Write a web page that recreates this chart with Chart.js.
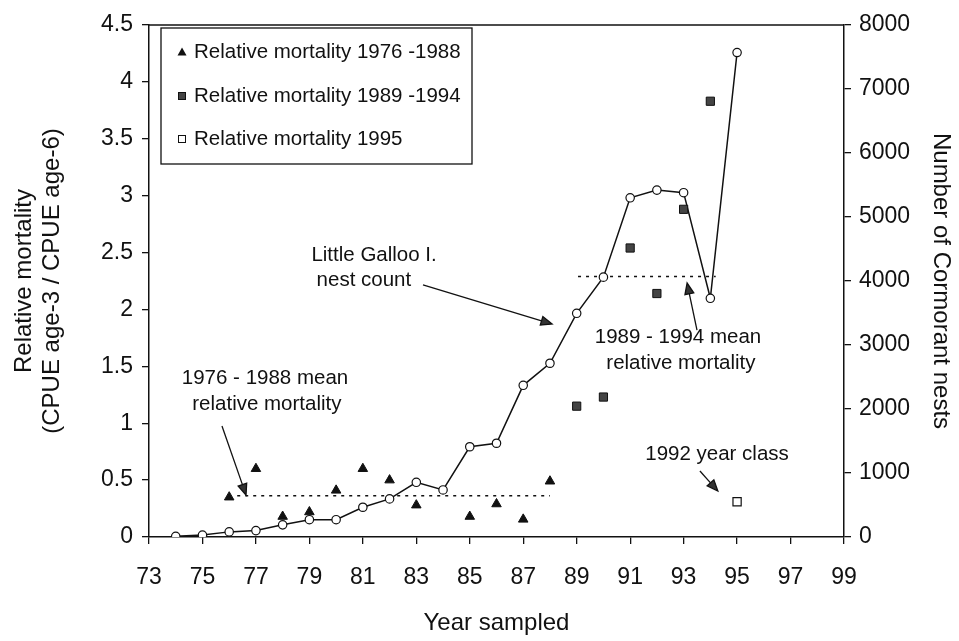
<!DOCTYPE html>
<html><head><meta charset="utf-8">
<script src="https://cdn.jsdelivr.net/npm/chart.js@4/dist/chart.umd.min.js"></script>
<style>html,body{margin:0;padding:0;background:#fff}</style>
</head><body>
<canvas id="c" width="959" height="641"></canvas>
<script>
// ---- data ----
const nestYears  = [74,75,76,77,78,79,80,81,82,83,84,85,86,87,88,89,90,91,92,93,94,95];
const nestCounts = [10,30,80,100,190,270,270,465,595,855,735,1410,1465,2370,2715,3495,4060,5300,5420,5380,3730,7570];
const mortEarlyYears = [76,77,78,79,80,81,82,83,85,86,87,88];
const mortEarly      = [0.35,0.60,0.18,0.22,0.41,0.60,0.50,0.28,0.18,0.29,0.155,0.49];
const mortMidYears = [89,90,91,92,93,94];
const mortMid      = [1.15,1.23,2.54,2.14,2.88,3.83];
const mort95Years = [95];
const mort95      = [0.31];
const meanEarlySpan = [76.3, 88.0];
const meanEarly = 0.363;
const meanMidSpan = [89.05, 94.2];
const meanMid = 2.29;
const xTicks = [73,75,77,79,81,83,85,87,89,91,93,95,97,99];
const yLeftTicks = [0,0.5,1,1.5,2,2.5,3,3.5,4,4.5];
const yRightTicks = [0,1000,2000,3000,4000,5000,6000,7000,8000];
const legendLabels = ['Relative mortality 1976 -1988','Relative mortality 1989 -1994','Relative mortality 1995'];
const xTitle = 'Year sampled';
const yTitle = ['Relative mortality','(CPUE age-3 / CPUE age-6)'];
const y2Title = 'Number of Cormorant nests';

const FONT = '"Liberation Sans", Arial, sans-serif';
const INK = '#111';
const pts = (xs, ys) => xs.map((x,i)=>({x, y: ys[i]}));

const frameAndNotes = {
  id: 'frameAndNotes',
  afterDraw(chart) {
    const {ctx, chartArea: a, scales} = chart;
    const X = v => scales.x.getPixelForValue(v);
    const Y = v => scales.y.getPixelForValue(v);
    ctx.save();
    // top frame
    ctx.strokeStyle = INK; ctx.lineWidth = 1.5;
    ctx.beginPath(); ctx.moveTo(a.left, a.top); ctx.lineTo(a.right, a.top); ctx.stroke();

    // legend box
    const lx = a.left + 12, ly = a.top + 3, lw = 311, lh = 136;
    ctx.fillStyle = '#fff'; ctx.fillRect(lx, ly, lw, lh);
    ctx.lineWidth = 1.3; ctx.strokeRect(lx, ly, lw, lh);
    ctx.font = '20.5px ' + FONT; ctx.fillStyle = INK; ctx.textBaseline = 'middle'; ctx.textAlign = 'left';
    const rows = [ly + 24, ly + 68, ly + 111];
    const mx = lx + 21;
    // triangle
    ctx.beginPath(); ctx.moveTo(mx, rows[0]-4.5); ctx.lineTo(mx+4.5, rows[0]+3.5); ctx.lineTo(mx-4.5, rows[0]+3.5); ctx.closePath();
    ctx.fillStyle = INK; ctx.fill();
    // filled square
    ctx.fillStyle = '#444'; ctx.fillRect(mx-3.5, rows[1]-3.5, 7, 7);
    ctx.lineWidth = 1; ctx.strokeStyle = INK; ctx.strokeRect(mx-3.5, rows[1]-3.5, 7, 7);
    // open square
    ctx.fillStyle = '#fff'; ctx.fillRect(mx-3.5, rows[2]-3.5, 7, 7); ctx.strokeRect(mx-3.5, rows[2]-3.5, 7, 7);
    ctx.fillStyle = INK;
    legendLabels.forEach((t,i)=> ctx.fillText(t, lx + 33, rows[i]));

    // annotations (anchored in data coordinates)
    ctx.textAlign = 'center';
    const txt = (s, xv, yv) => ctx.fillText(s, X(xv), Y(yv));
    txt('Little Galloo I.', 81.42, 2.478);
    txt('nest count', 81.04, 2.259);
    txt('1976 - 1988 mean', 77.34, 1.397);
    txt('relative mortality', 77.41, 1.169);
    txt('1989 - 1994 mean', 92.79, 1.758);
    txt('relative mortality', 92.90, 1.529);
    txt('1992 year class', 94.25, 0.729);

    const arrow = (x1v,y1v,x2v,y2v) => {
      const x1=X(x1v), y1=Y(y1v), x2=X(x2v), y2=Y(y2v);
      const ang = Math.atan2(y2-y1, x2-x1), L = 11, W = 4.5;
      const bx = x2 - L*Math.cos(ang), by = y2 - L*Math.sin(ang);
      ctx.strokeStyle = INK; ctx.lineWidth = 1.3;
      ctx.beginPath(); ctx.moveTo(x1,y1); ctx.lineTo(bx,by); ctx.stroke();
      ctx.beginPath(); ctx.moveTo(x2,y2);
      ctx.lineTo(bx + W*Math.sin(ang), by - W*Math.cos(ang));
      ctx.lineTo(bx - W*Math.sin(ang), by + W*Math.cos(ang));
      ctx.closePath(); ctx.fillStyle = '#333'; ctx.fill(); ctx.stroke();
    };
    arrow(83.25, 2.215, 88.08, 1.872);
    arrow(75.73, 0.976, 76.63, 0.369);
    arrow(93.50, 1.819, 93.13, 2.232);
    arrow(93.61, 0.580, 94.28, 0.404);
    ctx.restore();
  }
};

const tickFont = {family: FONT, size: 23};
const titleFont = {family: FONT, size: 24, lineHeight: 1.15};
const setTicks = arr => s => { s.ticks = arr.map(v=>({value:v})); };

new Chart(document.getElementById('c'), {
  type: 'scatter',
  data: {
    datasets: [
      {label: legendLabels[0], data: pts(mortEarlyYears, mortEarly), yAxisID: 'y',
       pointStyle: 'triangle', pointRadius: 5.5, backgroundColor: INK, borderColor: INK, borderWidth: 1},
      {label: legendLabels[1], data: pts(mortMidYears, mortMid), yAxisID: 'y',
       pointStyle: 'rect', pointRadius: 5.8, backgroundColor: '#444', borderColor: INK, borderWidth: 1},
      {label: legendLabels[2], data: pts(mort95Years, mort95), yAxisID: 'y',
       pointStyle: 'rect', pointRadius: 5.8, backgroundColor: '#fff', borderColor: INK, borderWidth: 1.2},
      {label: 'Little Galloo I. nest count', type: 'line', data: pts(nestYears, nestCounts), yAxisID: 'y2',
       borderColor: INK, borderWidth: 1.5, pointRadius: 4.2, pointBackgroundColor: '#fff',
       pointBorderColor: INK, pointBorderWidth: 1.2, tension: 0, fill: false},
      {label: '1976-1988 mean', type: 'line', data: pts(meanEarlySpan, [meanEarly, meanEarly]), yAxisID: 'y',
       borderColor: INK, borderWidth: 1.6, borderDash: [3,5], pointRadius: 0, fill: false},
      {label: '1989-1994 mean', type: 'line', data: pts(meanMidSpan, [meanMid, meanMid]), yAxisID: 'y',
       borderColor: INK, borderWidth: 1.6, borderDash: [3,5], pointRadius: 0, fill: false}
    ]
  },
  options: {
    responsive: false, animation: false, devicePixelRatio: 1,
    layout: {padding: {top: 25, left: 0, right: 0, bottom: 0}},
    plugins: {legend: {display: false}, tooltip: {enabled: false}},
    scales: {
      x: {type: 'linear', min: 73, max: 99, afterBuildTicks: setTicks(xTicks),
          afterFit: s => { s.height = 104; },
          ticks: {font: tickFont, color: INK, padding: 20, maxRotation: 0, autoSkip: false, callback: v => String(v)},
          grid: {drawOnChartArea: false, tickLength: 7, color: INK, lineWidth: 1.3},
          border: {color: INK, width: 1.5},
          title: {display: true, text: xTitle, font: titleFont, color: INK, padding: {top: 0, bottom: 4}}},
      y: {position: 'left', min: 0, max: 4.5, afterBuildTicks: setTicks(yLeftTicks),
          afterFit: s => { s.width = 149; },
          ticks: {font: tickFont, color: INK, padding: 9, autoSkip: false, callback: v => String(v)},
          grid: {drawOnChartArea: false, tickLength: 7, color: INK, lineWidth: 1.3},
          border: {color: INK, width: 1.5},
          title: {display: true, text: yTitle, font: titleFont, color: INK, padding: {top: 11, bottom: 0}}},
      y2: {position: 'right', min: 0, max: 8000, afterBuildTicks: setTicks(yRightTicks),
          afterFit: s => { s.width = 115; },
          ticks: {font: tickFont, color: INK, padding: 8, autoSkip: false, callback: v => String(v)},
          grid: {drawOnChartArea: false, tickLength: 7, color: INK, lineWidth: 1.3},
          border: {color: INK, width: 1.5},
          title: {display: true, text: y2Title, font: titleFont, color: INK, padding: {top: 5, bottom: 0}}}
    }
  },
  plugins: [frameAndNotes]
});
</script>
</body></html>
